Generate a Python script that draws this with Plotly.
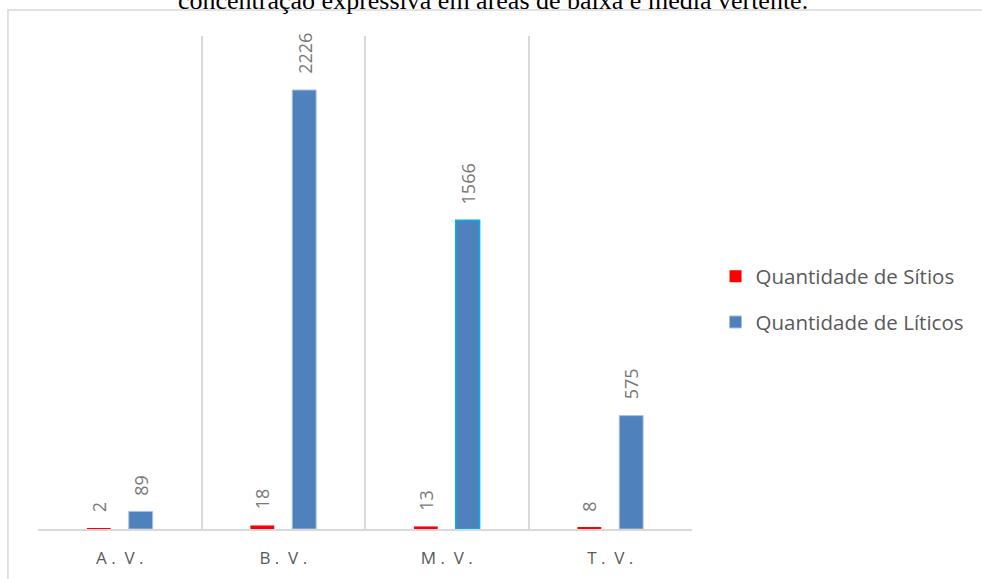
import plotly.graph_objects as go

# Slope positions (alta, baixa, média e topo de vertente)
categories = ["A. V.", "B. V.", "M. V.", "T. V."]
tick_labels = ["A\u00a0.\u00a0\u00a0V\u00a0.", "B\u00a0.\u00a0\u00a0V\u00a0.",
               "M\u00a0.\u00a0\u00a0V\u00a0.", "T\u00a0.\u00a0\u00a0V\u00a0."]
sitios = [2, 18, 13, 8]
liticos = [89, 2226, 1566, 575]

title_text = "concentração expressiva em áreas de baixa e média vertente."

GREY_TXT = "#595959"
LABEL_TXT = "#787878"
GRID = "#D9D9D9"
FONT = "Open Sans"

fig = go.Figure()
fig.add_trace(go.Bar(
    x=categories, y=sitios, name="Quantidade de Sítios",
    marker=dict(color="#FF0000", line=dict(width=0)),
    legendgroup="s",
))
fig.add_trace(go.Bar(
    x=categories, y=liticos, name="Quantidade de Líticos",
    marker=dict(color="#4F81BD",
                line=dict(color=["#A8C0E0", "#A8C0E0", "#00B0F0", "#A8C0E0"],
                          width=[1, 1, 1.5, 1])),
    legendgroup="l",
))

# rotated value labels above each bar
annotations = []
for series, shift in ((sitios, -21), (liticos, 21)):
    for cat, val in zip(categories, series):
        annotations.append(dict(
            x=cat, y=val, xref="x", yref="y", text=str(val),
            textangle=-90, showarrow=False, xanchor="center", yanchor="bottom",
            xshift=shift, yshift=14,
            font=dict(family=FONT, size=18, color=LABEL_TXT),
        ))

# caption line running above the chart frame
annotations.append(dict(
    x=0.695, y=1.039, xref="paper", yref="paper", text=title_text,
    showarrow=False, xanchor="center", yanchor="bottom",
    font=dict(family="Liberation Serif", size=26, color="#000000"),
))

fig.update_layout(
    width=982, height=579,
    margin=dict(l=38, r=290, t=36, b=50),
    paper_bgcolor="white", plot_bgcolor="white",
    barmode="group", bargap=0.488, bargroupgap=0.43,
    showlegend=True,
    legend=dict(
        x=1.036, xanchor="left", y=0.4655, yanchor="middle",
        font=dict(family=FONT, size=20.5, color=GREY_TXT),
        tracegroupgap=16, traceorder="grouped",
        bgcolor="rgba(0,0,0,0)",
    ),
    xaxis=dict(
        type="category", range=[-0.5, 3.5], automargin=False,
        tickmode="array", tickvals=categories, ticktext=tick_labels,
        tickson="boundaries", ticks="",
        showgrid=True, gridcolor=GRID, gridwidth=2,
        showline=True, linecolor=GRID, linewidth=2,
        tickfont=dict(family=FONT, size=17, color=GREY_TXT),
        ticklabelstandoff=13,
    ),
    yaxis=dict(
        range=[0, 2500], showgrid=False, zeroline=False, automargin=False,
        showticklabels=False, showline=False, ticks="",
    ),
    annotations=annotations,
    shapes=[dict(
        type="rect", xref="paper", yref="paper",
        x0=-0.0459, x1=1.6, y0=-0.4, y1=1.0527,
        line=dict(color=GRID, width=1.5), layer="below",
    )],
)

fig.write_html("out.html")
